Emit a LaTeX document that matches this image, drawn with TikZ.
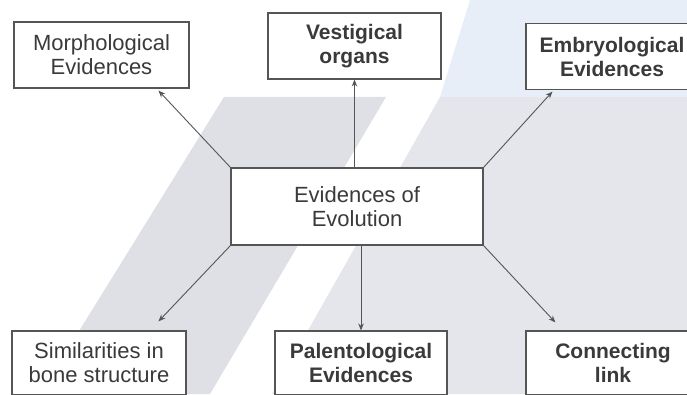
\documentclass[tikz,border=0pt]{standalone}
\usepackage{fontspec}
\setmainfont{Liberation Sans}
\usetikzlibrary{arrows.meta,calc}
\definecolor{wmA}{HTML}{DFE0E5}
\definecolor{wmB}{HTML}{E4E6EB}
\definecolor{wmC}{HTML}{E8EEF7}
\definecolor{ink}{HTML}{3A3A3A}
\definecolor{edge}{HTML}{555555}
\tikzset{
  box/.style={draw=edge, line width=1.1pt, fill=white, align=center, inner sep=0pt,
    font=\fontsize{22}{24}\selectfont, text=ink},
  boldbox/.style={box, font=\fontsize{21}{24}\selectfont\bfseries},
  arr/.style={draw=edge, line width=0.9pt, -{Stealth[length=7pt,width=5.5pt]}}
}
\begin{document}
\begin{tikzpicture}[x=1pt,y=1pt]
\useasboundingbox (0,0) rectangle (687,394);
\clip (0,0) rectangle (687,394);
% faint watermark
\fill[wmA] (224,297) -- (386,297) -- (210,0) -- (40,0) -- cycle;
\fill[wmB] (440,297) -- (687,297) -- (687,0) -- (272,0) -- cycle;
\fill[wmC] (470,394) -- (687,394) -- (687,297) -- (440,297) -- cycle;
% nodes
\node[box, minimum width=175pt, minimum height=66pt] (morph) at (101.5,339) {Morphological\\Evidences};
\node[boldbox, minimum width=173pt, minimum height=66pt] (vest) at (354.5,348) {Vestigical\\organs};
\node[boldbox, minimum width=172pt, minimum height=66pt] (embryo) at (612,337.5) {Embryological\\Evidences};
\node[box, minimum width=252pt, minimum height=77pt] (c) at (357,187.5) {Evidences of\\Evolution};
\node[box, minimum width=174pt, minimum height=64pt] (sim) at (99,31) {Similarities in\\bone structure};
\node[boldbox, minimum width=172pt, minimum height=64pt] (pal) at (361,31) {Palentological\\Evidences};
\node[boldbox, minimum width=174pt, minimum height=64pt] (conn) at (613,31) {Connecting\\link};
% connectors
\draw[arr] (c.north west) -- ($(morph.south west)+(145,-2)$);
\draw[arr] (vest.south |- c.north) -- (vest.south);
\draw[arr] (c.north east) -- ($(embryo.south west)+(27,-1.5)$);
\draw[arr] (c.south west) -- ($(sim.north west)+(147,9)$);
\draw[arr] (pal.north |- c.south) -- (pal.north);
\draw[arr] (c.south east) -- ($(conn.north west)+(30,8)$);
\end{tikzpicture}
\end{document}
